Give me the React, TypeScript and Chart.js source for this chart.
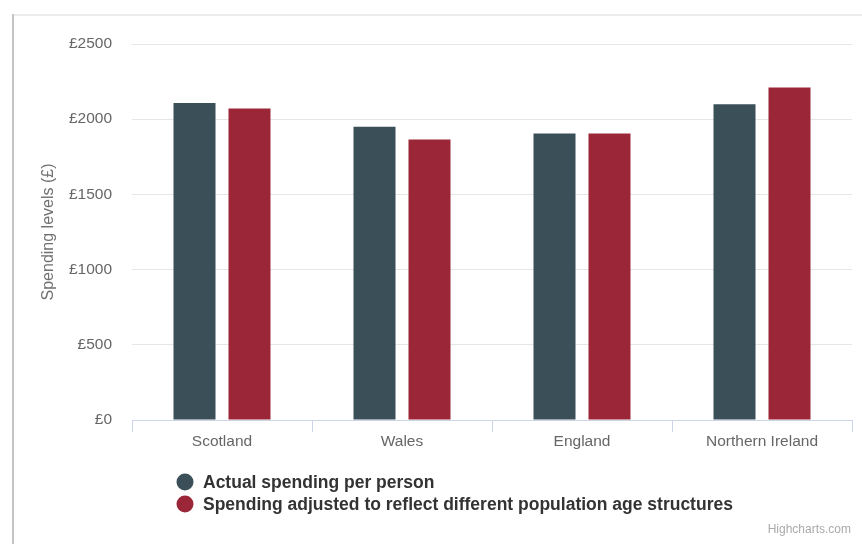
import React, { useEffect, useRef } from "react";
import { Chart, registerables } from "chart.js";

Chart.register(...registerables);

const categories = ["Scotland", "Wales", "England", "Northern Ireland"];
const actualSpending = [2108, 1949, 1905, 2100];
const adjustedSpending = [2071, 1865, 1905, 2211];
const seriesNames = [
  "Actual spending per person",
  "Spending adjusted to reflect different population age structures",
];
const seriesColors = ["#3b4f59", "#9b2637"];
const yMin = 0;
const yMax = 2500;
const yStep = 500;
const yTitle = "Spending levels (£)";
const currency = "£";
const creditText = "Highcharts.com";

const FONT = "'Liberation Sans', Arial, Helvetica, sans-serif";

const legendPlugin = {
  id: "customLegend",
  afterDraw(chart: any) {
    const ctx = chart.ctx;
    ctx.save();
    chart.data.datasets.forEach((ds: any, i: number) => {
      const cy = 482 + i * 22;
      ctx.beginPath();
      ctx.fillStyle = ds.backgroundColor;
      ctx.arc(185, cy, 8.5, 0, Math.PI * 2);
      ctx.fill();
      ctx.fillStyle = "#333333";
      ctx.font = `bold 17.5px ${FONT}`;
      ctx.textBaseline = "middle";
      ctx.textAlign = "left";
      ctx.fillText(ds.label, 203, cy + 1);
    });
    ctx.fillStyle = "#aaaaaa";
    ctx.font = `12px ${FONT}`;
    ctx.textAlign = "right";
    ctx.textBaseline = "middle";
    ctx.fillText(creditText, 851, 530);
    ctx.restore();
  },
};

export default function App() {
  const canvasRef = useRef<HTMLCanvasElement | null>(null);

  useEffect(() => {
    if (!canvasRef.current) return;
    const chart = new Chart(canvasRef.current, {
      type: "bar",
      data: {
        labels: categories,
        datasets: [
          {
            label: seriesNames[0],
            data: actualSpending,
            backgroundColor: seriesColors[0],
            borderWidth: 0,
            categoryPercentage: 0.611,
            barPercentage: 0.764,
          },
          {
            label: seriesNames[1],
            data: adjustedSpending,
            backgroundColor: seriesColors[1],
            borderWidth: 0,
            categoryPercentage: 0.611,
            barPercentage: 0.764,
          },
        ],
      },
      options: {
        responsive: false,
        animation: false,
        devicePixelRatio: 1,
        layout: { padding: { top: 44, right: 10, left: 0, bottom: 0 } },
        plugins: {
          legend: { display: false },
          tooltip: { enabled: false },
          title: { display: false },
        },
        scales: {
          x: {
            offset: true,
            grid: {
              offset: true,
              drawOnChartArea: false,
              drawTicks: true,
              tickLength: 12,
              color: "#ccd6eb",
            },
            border: { display: true, color: "#ccd6eb", width: 1 },
            ticks: {
              color: "#666666",
              font: { family: FONT, size: 15.5 },
              padding: 0,
            },
            afterFit: (s: any) => {
              s.height = 124;
            },
          },
          y: {
            min: yMin,
            max: yMax,
            ticks: {
              stepSize: yStep,
              color: "#666666",
              font: { family: FONT, size: 15.5 },
              padding: 20,
              callback: (v: any) => currency + v,
            },
            grid: {
              drawTicks: false,
              color: (c: any) => (c.tick && c.tick.value === 0 ? "rgba(0,0,0,0)" : "#e6e6e6"),
              lineWidth: 1,
            },
            border: { display: false },
            title: {
              display: true,
              text: yTitle,
              color: "#707070",
              font: { family: FONT, size: 16 },
              padding: { top: 39, bottom: 0 },
            },
            afterFit: (s: any) => {
              s.width = 132;
            },
          },
        },
      },
      plugins: [legendPlugin],
    });
    return () => chart.destroy();
  }, []);

  return (
    <div
      style={{
        position: "fixed",
        left: 0,
        top: 0,
        width: 862,
        height: 544,
        background: "#ffffff",
        overflow: "hidden",
      }}
    >
      <div
        style={{
          position: "absolute",
          left: 12,
          top: 14,
          width: 850,
          height: 2,
          background: "#ececec",
        }}
      />
      <div
        style={{
          position: "absolute",
          left: 12,
          top: 14,
          width: 2,
          height: 530,
          background: "#c4c4c4",
        }}
      />
      <canvas
        ref={canvasRef}
        width={862}
        height={544}
        style={{ position: "absolute", left: 0, top: 0, width: 862, height: 544 }}
      />
    </div>
  );
}
